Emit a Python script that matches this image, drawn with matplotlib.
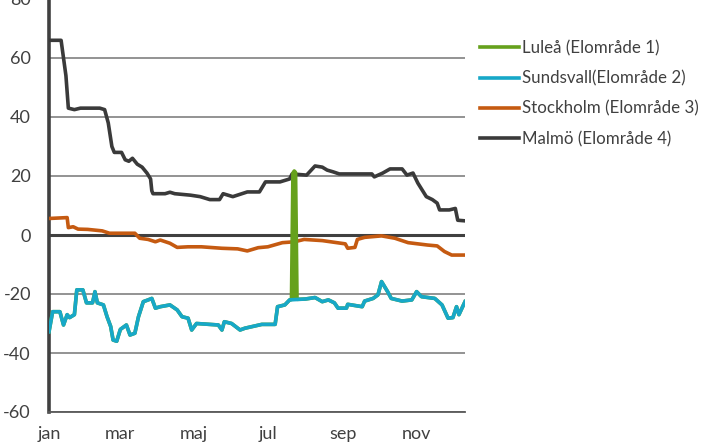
import numpy as np
import matplotlib
matplotlib.use('Agg')
import matplotlib.pyplot as plt

# Day of year (0 = 1 Jan) and percent values per price area
malmo_days = [0, 10, 12, 14, 16, 21, 26, 34, 42, 46, 49, 52, 54, 60, 63, 66, 69, 73, 77, 81,
              84, 85, 86, 96, 100, 104, 117, 125, 133, 141, 144, 152, 164, 174, 179, 191, 199, 201, 213, 220,
              226, 230, 235, 240, 267, 269, 276, 282, 292, 296, 301, 305, 312, 317, 321, 323, 331, 336, 338, 344]
malmo_vals = [66, 66, 60, 54, 43, 42.5, 43, 43, 43, 42.5, 38, 30, 28, 28, 25.5, 25, 26, 24, 23, 21,
              19, 15, 14, 14, 14.5, 14, 13.5, 13, 12, 12, 14, 13, 14.6, 14.6, 18, 18, 19, 20.7, 20.3, 23.4,
              23, 22, 21.4, 20.7, 20.7, 19.7, 21, 22.4, 22.4, 20.3, 21, 17.6, 13, 12, 10.8, 8.5, 8.5, 9, 5, 4.8]

sthlm_days = [0, 15, 16, 20, 24, 32, 44, 50, 71, 75, 82, 88, 92, 100, 106, 115, 126, 143, 156, 164,
              173, 181, 193, 203, 211, 226, 245, 247, 253, 255, 261, 275, 286, 297, 313, 321, 327, 333, 344]
sthlm_vals = [5.6, 5.9, 2.5, 2.8, 2, 1.9, 1.4, 0.6, 0.6, -1.1, -1.5, -2.3, -1.7, -2.8, -4.2, -4, -4, -4.5, -4.7, -5.4,
              -4.3, -4, -2.6, -2.3, -1.5, -1.9, -3, -4.5, -4.2, -1.5, -0.8, -0.3, -1.1, -2.6, -3.4, -3.7, -5.6, -6.8, -6.8]

sundsvall_days = [0, 3, 9, 12, 15, 17, 21, 23, 28, 31, 36, 38, 40, 45, 48, 51, 53, 56, 59, 64,
                  67, 71, 74, 78, 82, 85, 88, 92, 100, 106, 110, 115, 118, 122, 140, 143, 145, 151, 158, 162,
                  176, 187, 189, 195, 199, 212, 220, 226, 231, 236, 239, 246, 247, 259, 261, 268, 272, 275, 280, 283,
                  292, 300, 304, 308, 319, 325, 330, 334, 337, 339, 344]
sundsvall_vals = [-32.8, -26, -26, -30.5, -27, -28, -27, -18.6, -18.6, -23, -23, -19.2, -23, -23.7, -27.7, -31, -35.6, -36, -32, -30.5,
                  -33.9, -33.3, -27.7, -22.6, -22, -21.5, -24.8, -24.3, -23.7, -25.4, -27.7, -28.2, -32.2, -30, -30.5, -32.2, -29.4, -30, -32.2, -31.6,
                  -30.3, -30.3, -24.3, -23.7, -22, -21.7, -21.2, -22.6, -22, -23, -24.8, -24.8, -23.5, -24.3, -22.4, -21.5, -20.3, -15.8, -19.2, -21.5,
                  -22.4, -22, -19.2, -20.9, -21.5, -23.7, -28.2, -28, -24.3, -27, -22.6]

lulea_days = [0, 3, 9, 12, 15, 17, 21, 23, 28, 31, 36, 38, 40, 45, 48, 51, 53, 56, 59, 64,
              67, 71, 74, 78, 82, 85, 88, 92, 100, 106, 110, 115, 118, 122, 140, 143, 145, 151, 158, 162,
              176, 187, 189, 195, 199, 200.5, 201.7, 202.8, 203.9, 205.1, 212, 220, 226, 231, 236, 239, 246, 247, 259, 261,
              268, 272, 275, 280, 283, 292, 300, 304, 308, 319, 325, 330, 334, 337, 339, 344]
lulea_vals = [-32.8, -26, -26, -30.5, -27, -28, -27, -18.6, -18.6, -23, -23, -19.2, -23, -23.7, -27.7, -31, -35.6, -36, -32, -30.5,
              -33.9, -33.3, -27.7, -22.6, -22, -21.5, -24.8, -24.3, -23.7, -25.4, -27.7, -28.2, -32.2, -30, -30.5, -32.2, -29.4, -30, -32.2, -31.6,
              -30.3, -30.3, -24.3, -23.7, -22, -21.9, 21, 21.7, 21.2, -21.8, -21.7, -21.2, -22.6, -22, -23, -24.8, -24.8, -23.5, -24.3, -22.4,
              -21.5, -20.3, -15.8, -19.2, -21.5, -22.4, -22, -19.2, -20.9, -21.5, -23.7, -28.2, -28, -24.3, -27, -22.6]

month_pos = [0, 59, 120, 181, 243, 304]
month_labels = ['jan', 'mar', 'maj', 'jul', 'sep', 'nov']
yticks = [-60, -40, -20, 0, 20, 40, 60, 80]

plt.rcParams['font.family'] = ['Lato', 'DejaVu Sans']
plt.rcParams['axes.unicode_minus'] = False
txt = '#404040'
green = '#66a11c'

fig = plt.figure(figsize=(7.03, 4.44), dpi=100)
ax = fig.add_axes([49/703, 1 - 412/444, (465 - 49)/703, (413/444)])

lw = 2.6
ax.plot(lulea_days, lulea_vals, color=green, lw=lw, zorder=4, label='Luleå (Elområde 1)')
# fill the inside of the short July peak so it reads as one solid spike
ax.fill(lulea_days[45:50], lulea_vals[45:50], color=green, lw=0, zorder=4)
ax.plot(sundsvall_days, sundsvall_vals, color='#17a8c8', lw=lw, zorder=5, label='Sundsvall(Elområde 2)')
ax.plot(sthlm_days, sthlm_vals, color='#c55a11', lw=lw, zorder=3, label='Stockholm (Elområde 3)')
ax.plot(malmo_days, malmo_vals, color='#3a3a3a', lw=lw, zorder=3, label='Malmö (Elområde 4)')

ax.set_xlim(0, 344)
ax.set_ylim(-60, 80)
ax.set_yticks(yticks)
ax.set_xticks(month_pos)
ax.set_xticklabels(month_labels)

ax.yaxis.grid(True, color='#808080', lw=1.2)
ax.set_axisbelow(True)
ax.axhline(0, color='#404040', lw=2.2, zorder=2)

for s in ['top', 'right']:
    ax.spines[s].set_visible(False)
ax.spines['left'].set_color('#404040')
ax.spines['left'].set_linewidth(2.6)
ax.spines['bottom'].set_color('#595959')
ax.spines['bottom'].set_linewidth(1.3)

ax.tick_params(axis='y', length=0, pad=13, labelsize=13, labelcolor=txt)
ax.tick_params(axis='x', length=0, pad=10, labelsize=13, labelcolor=txt)

fig.legend(loc='upper left', bbox_to_anchor=(480/703, 1 - 40/444), frameon=False,
           fontsize=12.2, labelcolor=txt, handlelength=2.3, handletextpad=0.2,
           labelspacing=0.84, borderpad=0, borderaxespad=0)

fig.savefig('out.png', dpi=100)
